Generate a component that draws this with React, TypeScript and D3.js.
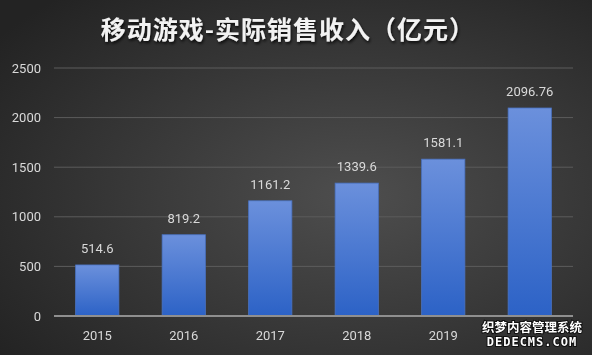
import { useEffect, useRef } from 'react'
import * as d3 from 'd3'

const years = ['2015', '2016', '2017', '2018', '2019', '2020']
const revenue = [514.6, 819.2, 1161.2, 1339.6, 1581.1, 2096.76]
const valueLabels = ['514.6', '819.2', '1161.2', '1339.6', '1581.1', '2096.76']
const yTicks = [0, 500, 1000, 1500, 2000, 2500]
const title = '移动游戏-实际销售收入（亿元）'

const W = 592
const H = 355

export default function App() {
  const svgRef = useRef<SVGSVGElement>(null)

  useEffect(() => {
    if (!svgRef.current) return
    const svg = d3.select(svgRef.current)
    svg.selectAll('*').remove()

    const margin = { top: 68, right: 19, bottom: 39, left: 54 }
    const innerW = W - margin.left - margin.right
    const innerH = H - margin.top - margin.bottom

    const defs = svg.append('defs')
    const bg = defs.append('radialGradient')
      .attr('id', 'bg')
      .attr('cx', '60%').attr('cy', '55%').attr('r', '75%')
    bg.append('stop').attr('offset', '0%').attr('stop-color', '#4e4e4e')
    bg.append('stop').attr('offset', '100%').attr('stop-color', '#232323')

    const barGrad = defs.append('linearGradient')
      .attr('id', 'bar')
      .attr('x1', 0).attr('y1', 0).attr('x2', 0).attr('y2', 1)
    barGrad.append('stop').attr('offset', '0%').attr('stop-color', '#6b90dc')
    barGrad.append('stop').attr('offset', '100%').attr('stop-color', '#2c62c6')

    const shadow = defs.append('filter').attr('id', 'ts')
      .attr('x', '-10%').attr('y', '-30%').attr('width', '120%').attr('height', '160%')
    shadow.append('feDropShadow')
      .attr('dx', 1).attr('dy', 2).attr('stdDeviation', 1.5)
      .attr('flood-color', '#000').attr('flood-opacity', 0.8)

    svg.append('rect').attr('width', W).attr('height', H).attr('fill', 'url(#bg)')

    svg.append('text')
      .attr('x', W / 2 - 8)
      .attr('y', 39)
      .attr('text-anchor', 'middle')
      .attr('fill', '#f2f2f2')
      .attr('filter', 'url(#ts)')
      .style('font-family', '"Noto Sans CJK SC", sans-serif')
      .style('font-size', '25px')
      .style('font-weight', 700)
      .style('letter-spacing', '1px')
      .text(title)

    const g = svg.append('g').attr('transform', `translate(${margin.left},${margin.top})`)

    const x = d3.scaleBand<string>()
      .domain(years)
      .range([0, innerW])
      .paddingInner(0.5)
      .paddingOuter(0.25)

    const y = d3.scaleLinear().domain([0, 2500]).range([innerH, 0])

    // gridlines
    g.selectAll('.grid')
      .data(yTicks.filter(t => t > 0))
      .enter()
      .append('line')
      .attr('x1', 0).attr('x2', innerW)
      .attr('y1', d => y(d)).attr('y2', d => y(d))
      .attr('stroke', '#5c5c5c')
      .attr('stroke-width', 1)

    // y tick labels
    g.selectAll('.ytick')
      .data(yTicks)
      .enter()
      .append('text')
      .attr('x', -13)
      .attr('y', d => y(d))
      .attr('dy', '0.35em')
      .attr('text-anchor', 'end')
      .attr('fill', '#d9d9d9')
      .style('font-family', 'Roboto, "Open Sans", sans-serif')
      .style('font-size', '13px')
      .text(d => d)

    // bars
    g.selectAll('.bar')
      .data(revenue)
      .enter()
      .append('rect')
      .attr('x', (_, i) => x(years[i])!)
      .attr('y', d => y(d))
      .attr('width', x.bandwidth())
      .attr('height', d => innerH - y(d))
      .attr('fill', 'url(#bar)')
      .attr('stroke', '#4a72c0')
      .attr('stroke-width', 0.8)

    // value labels
    g.selectAll('.val')
      .data(revenue)
      .enter()
      .append('text')
      .attr('x', (_, i) => x(years[i])! + x.bandwidth() / 2)
      .attr('y', d => y(d) - 12)
      .attr('text-anchor', 'middle')
      .attr('fill', '#d9d9d9')
      .style('font-family', 'Roboto, "Open Sans", sans-serif')
      .style('font-size', '13px')
      .text((_, i) => valueLabels[i])

    // x axis line
    g.append('line')
      .attr('x1', 0).attr('x2', innerW)
      .attr('y1', innerH).attr('y2', innerH)
      .attr('stroke', '#8f8f8f')
      .attr('stroke-width', 2)

    // x labels (last is hidden under watermark in the original)
    g.selectAll('.xtick')
      .data(years.slice(0, 5))
      .enter()
      .append('text')
      .attr('x', d => x(d)! + x.bandwidth() / 2)
      .attr('y', innerH + 24)
      .attr('text-anchor', 'middle')
      .attr('fill', '#d9d9d9')
      .style('font-family', 'Roboto, "Open Sans", sans-serif')
      .style('font-size', '13px')
      .text(d => d)

    // watermark
    const wm = svg.append('g')
      .style('font-weight', 700)
      .attr('fill', '#ffffff')
      .attr('stroke', '#111')
      .attr('stroke-width', 2)
      .attr('paint-order', 'stroke')
    wm.append('text')
      .attr('x', 532).attr('y', 332)
      .attr('text-anchor', 'middle')
      .style('font-family', '"Noto Sans CJK SC", sans-serif')
      .style('font-size', '12.5px')
      .text('织梦内容管理系统')
    wm.append('text')
      .attr('x', 532).attr('y', 346)
      .attr('text-anchor', 'middle')
      .style('font-family', '"DejaVu Sans Mono", monospace')
      .style('font-size', '12px')
      .style('letter-spacing', '1px')
      .text('DEDECMS.COM')
  }, [])

  return (
    <div style={{ position: 'fixed', left: 0, top: 0 }}>
      <svg ref={svgRef} width={W} height={H} style={{ display: 'block' }} />
    </div>
  )
}
